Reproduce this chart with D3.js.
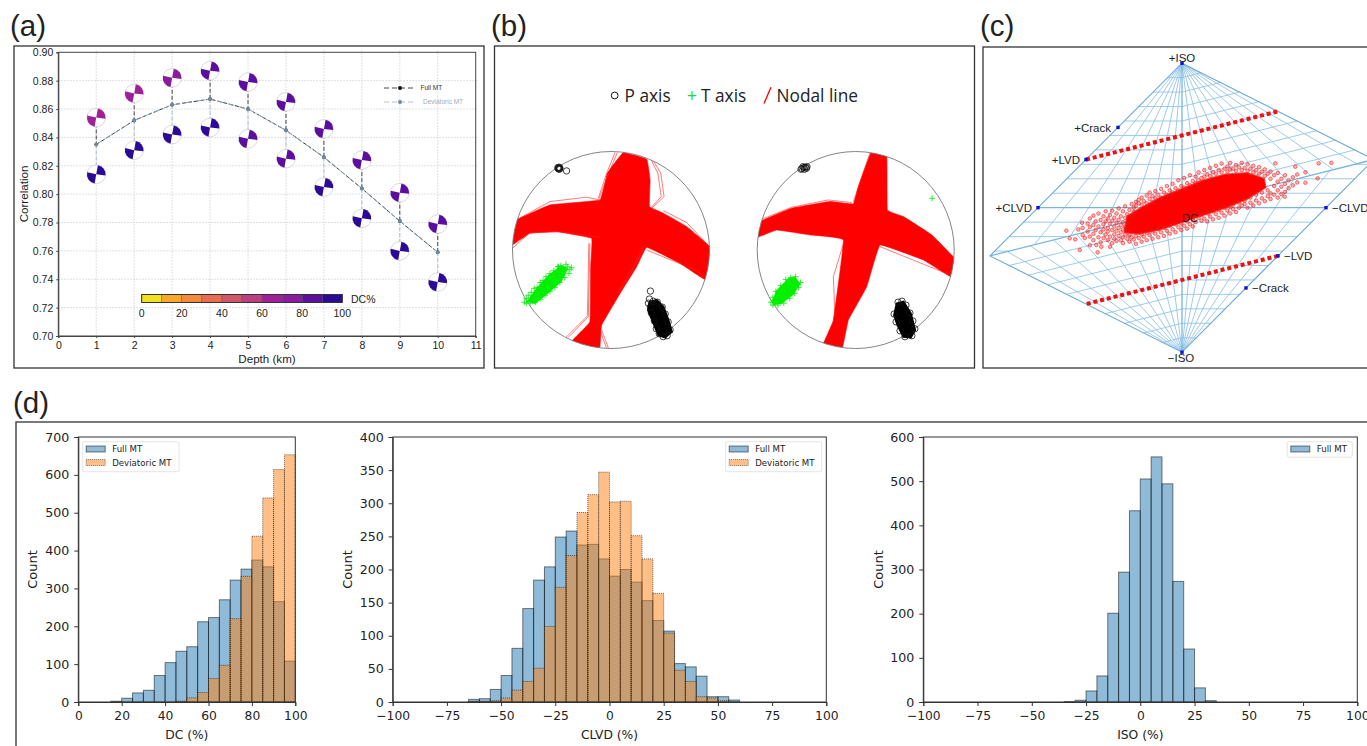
<!DOCTYPE html>
<html lang="en">
<head>
<meta charset="UTF-8">
<title>Moment tensor inversion summary</title>
<style>
  html, body { margin: 0; padding: 0; background: #fff; overflow: hidden; }
  text { fill: #222; }
  .sans { font-family: "Liberation Sans", sans-serif; }
  .mpl { font-family: "DejaVu Sans", sans-serif; }
</style>
</head>
<body>
<svg id="chart" width="1367" height="746"></svg>
<script src="https://cdn.jsdelivr.net/npm/d3@7"></script>
<script>
// panel a: correlation against depth
const depths = [1, 2, 3, 4, 5, 6, 7, 8, 9, 10]
const corrFull = [0.835, 0.852, 0.863, 0.867, 0.860, 0.845, 0.826, 0.804, 0.781, 0.759]
const corrDev = [0.835, 0.852, 0.863, 0.867, 0.860, 0.845, 0.826, 0.804, 0.781, 0.759]
const ballFullCorr = [0.854, 0.871, 0.882, 0.887, 0.879, 0.865, 0.846, 0.824, 0.801, 0.779]
const ballDevCorr = [0.814, 0.831, 0.842, 0.847, 0.839, 0.825, 0.805, 0.783, 0.760, 0.738]
const ballFullDC = [65, 65, 75, 85, 85, 85, 85, 85, 85, 85]
const ballDevDC = [95, 95, 95, 95, 85, 85, 95, 95, 95, 95]
const depthTicks = [0, 1, 2, 3, 4, 5, 6, 7, 8, 9, 10, 11]
const corrTicks = [0.70, 0.72, 0.74, 0.76, 0.78, 0.80, 0.82, 0.84, 0.86, 0.88, 0.90]
const dcColors = ["#f3e01f", "#f8a72b", "#f48a3c", "#e76c50", "#d0566a", "#bb3f82", "#a0209a", "#8a1a9e", "#5c0ea0", "#2c0a98"]
const dcBarTicks = [0, 20, 40, 60, 80, 100]
// wedge angles of the beachball, degrees clockwise from north
const ballWedges = [[10, 97], [190, 283]]

// panel b: stereonets, in percent of the net radius
const bandLeft = [[12.5,99],[36.3,92.2],[39.7,71.2],[39,44.1],[53.2,37.3],[76.9,23.7],[102,1.7],[96,-30],[70.2,-13.6],[36.3,2.7],[26.1,-16.9],[9.2,-44.1],[-9.5,-76.3],[-11.9,-102],[-40,-93],[-21.4,-72.9],[-20.7,-16.9],[-19.7,11.9],[-55.3,18.6],[-82.4,16.9],[-102,4],[-98,29.5],[-62,45.8],[-11.2,50.8],[-3.7,78]]
const thinLeft = [
  [[4.1,99],[-4.4,78],[-12.9,52.5]],
  [[6.5,99],[-2.5,78],[-12,52]],
  [[43,90.5],[50.5,78],[53.9,54.2],[41.4,42.4]],
  [[41,91],[47.5,78],[51,54],[40.5,43]],
  [[-95.9,30.5],[-62,49.2],[-24.7,53.6],[-11.2,50.8]],
  [[-100,1.7],[-82.4,17.6],[-51.9,18.6],[-11.2,12.9]],
  [[-21.4,6.8],[-23,-67.8],[-43.4,-88.8]],
  [[-22.5,6.8],[-24,-67],[-46,-89]],
  [[-11.2,-81.4],[-4.4,-100]],
  [[-9.5,-81.4],[-2.5,-100]],
  [[36.3,0],[87.1,-21],[95.6,-28.8]],
  [[53.2,40],[76.9,27.8],[100,3.4]],
  [[33.6,3.4],[24.4,-16.9],[7.5,-44.1]],
  [[32,4],[22.5,-17.5],[6,-44]]
]
const tCoreLeft = [[-85.8,-52.5],[-77.3,-40.7],[-63.7,-25.4],[-50.2,-15.3],[-43.4,-18.6],[-50.2,-32.2],[-63.7,-44.1],[-77.3,-54.9]]
const tPointsLeft = [[-88,-53],[-86,-49],[-84,-46],[-81,-43],[-78,-39],[-75,-38],[-72,-33],[-69,-31],[-66,-27],[-62,-24],[-58,-21],[-54,-17],[-51,-16],[-53.6,-16.9],[-45.8,-14.6],[-41.7,-19.7],[-44,-17],[-40,-18],[-42.7,-23.7],[-47,-28],[-52,-33],[-57,-38],[-62,-42],[-67,-46],[-72,-50],[-77,-53],[-82,-54],[-86,-54]]
const pCoreLeft = [[39,-52.5],[46.4,-50.8],[53.2,-57.6],[58.3,-71.2],[61.7,-83.1],[54.9,-88.8],[48.1,-86.4],[43.1,-74.6],[37.6,-61]]
const pPointsLeft = [[-53,83],[-52,83.5],[-53.5,82.5],[-52.5,82],[-53,84],[-54,83.5],[-52,82.5],[-45.1,80.3],[40,-41.7],[39,-49.8],[38,-54],[40,-58],[41,-64],[44,-72],[46,-80],[49,-85],[53,-88],[57,-87],[60,-81],[58,-73],[55,-65],[52,-58],[47,-53],[43,-52]]
const bandRight = [[15.6,99],[31.5,95.6],[32.2,40.7],[48.5,33.9],[77.3,15.3],[102,-10.2],[98,-28],[68.8,-10.2],[24.7,5.1],[11.2,-37.3],[-7.5,-71.2],[-14.2,-102],[-33,-96],[-22.7,-71.2],[-12.5,10.2],[-46.4,15.3],[-80.3,20.3],[-102,12],[-97,29],[-65.1,42.4],[-26.1,49.2],[-2.4,46.8],[2.7,64.4]]
const thinRight = [
  [[-21,-67.8],[-22.7,-27.1],[-11.9,8.5]],
  [[-97.3,30.5],[-65.1,43.4],[-27.8,50.8],[-4.1,48.1]],
  [[24.7,3.4],[95.9,-25.4]],
  [[-2.4,49.2],[14.6,99]]
]
const tCoreRight = [[-85.4,-52.5],[-80.3,-40.7],[-68.5,-28.8],[-61.7,-27.1],[-55.9,-33.9],[-63.4,-45.8],[-75.3,-54.9],[-83.7,-55.9]]
const tPointsRight = [[77.6,52.5],[-86,-53],[-84,-48],[-81,-42],[-76,-36],[-71,-30],[-66,-28],[-61,-27],[-56,-33],[-58,-38],[-62,-44],[-67,-49],[-73,-54],[-79,-56],[-84,-56]]
const pCoreRight = [[41.7,-54.2],[48.5,-52.5],[55.9,-64.4],[60.3,-81.4],[55.9,-88.8],[48.5,-88.1],[42.4,-76.3],[39,-66.1]]
const pPointsRight = [[-54.5,82.7],[-52.5,83.7],[-51,84],[-53.5,84.5],[-50,83],[-55.5,82],[-52,82],[-49.5,84.5],[43,-53],[47,-52],[51,-56],[55,-64],[58,-72],[60,-80],[57,-87],[50,-88],[45,-82],[41,-73],[39,-65]]

// panel c: Hudson plot, tau and k style coordinates
const hudsonRefs = [
  { name: "+ISO", u: 0, v: 1 }, { name: "\u2212ISO", u: 0, v: -1 },
  { name: "+CLVD", u: -1, v: 0 }, { name: "\u2212CLVD", u: 1, v: 0 },
  { name: "+LVD", u: -2 / 3, v: 1 / 3 }, { name: "\u2212LVD", u: 2 / 3, v: -1 / 3 },
  { name: "+Crack", u: -4 / 9, v: 5 / 9 }, { name: "\u2212Crack", u: 4 / 9, v: -5 / 9 }
]
const hudsonOutline = [[0, 1], [4 / 3, 1 / 3], [0, -1], [-4 / 3, -1 / 3]]
const meshLevels = [0.1, 0.2, 0.3, 0.4, 0.5, 0.6, 0.7, 0.8, 0.9]
const meshRaysNear = [0.07, 0.16, 0.27, 0.41, 0.58, 0.77]
const meshRaysFar = [0.09, 0.19, 0.31, 0.43, 0.55, 0.67, 0.79, 0.91]
const lvdLines = [[[-2 / 3, 1 / 3], [2 / 3, 2 / 3]], [[2 / 3, -1 / 3], [-2 / 3, -2 / 3]]]
const cloudCore = [[-.38,-.06],[-.3,-.01],[-.15,.07],[0,.13],[.15,.19],[.3,.23],[.45,.24],[.57,.2],[.58,.14],[.45,.06],[.3,0],[.15,-.05],[0,-.1],[-.15,-.15],[-.3,-.18],[-.4,-.17]]
const cloudOutliers = [[-.803,-.159],[-.78,-.212],[-.741,-.219],[-.71,-.293],[-.694,-.104],[-.586,-.309],[-.595,-.258],[1.037,.311],[.949,.307],[.787,.284],[.857,.245],[.942,.203],[.857,.173],[.713,.076],[.648,.307],[-.72,-.15],[-.675,-.21],[-.64,-.26],[-.56,-.27],[-.5,-.27]]
// columns of the scatter: [u, [v, v, ...]]
const cloudColumns = [
  [-.69,[-.14,-.19]],[-.655,[-.11,-.165]],[-.64,[-.075,-.2,-.135]],[-.615,[-.055,-.12,-.18,-.225]],[-.6,[-.095,-.155]],
  [-.58,[-.04,-.13,-.205]],[-.565,[-.085,-.17,-.24]],[-.545,[-.06,-.115,-.15,-.21]],[-.53,[-.025,-.095,-.185]],
  [-.515,[-.14,-.075,-.225,-.165]],[-.5,[-.05,-.11,-.2]],[-.485,[-.09,-.155,-.245,-.02]],[-.47,[-.13,-.07,-.185,-.215]],
  [-.455,[-.04,-.105,-.16,-.23]],[-.44,[-.005,-.085,-.14,-.195]],[-.425,[-.06,-.12,-.17,-.225]],[-.41,[-.025,-.1,-.15,-.205,-.245]],
  [-.395,[.01,-.07,-.13,-.185]],[-.38,[-.045,-.105,-.16,-.215]],[-.365,[-.015,-.19,-.235]],[-.35,[.025,-.06,-.205]],
  [-.335,[0,-.03,-.22]],[-.32,[.04,.015,-.195,-.25]],[-.3,[.03,-.21,.055]],[-.28,[.07,.02,-.185,-.235]],[-.265,[.045,-.2]],
  [-.245,[.085,.03,-.175,-.225]],[-.225,[.06,-.19,.105]],[-.205,[.04,.08,-.165,-.215]],[-.185,[.115,.065,-.18]],
  [-.165,[.09,-.15,-.205]],[-.145,[.13,.07,-.17]],[-.125,[.105,-.14,-.195]],[-.105,[.15,.09,-.16]],[-.085,[.12,-.125,-.18]],
  [-.065,[.165,.105,-.15]],[-.045,[.135,-.115,-.17]],[-.025,[.19,.12,-.135]],[-.005,[.15,-.11,-.155]],[.015,[.205,.14,-.125]],
  [.035,[.17,-.095,-.145]],[.055,[.225,.155,-.115]],[.075,[.185,-.085,-.13]],[.095,[.215,.17,-.1]],[.115,[.245,.19,-.07]],
  [.135,[.205,-.09,-.05]],[.155,[.26,.215,-.075]],[.175,[.23,-.04,-.095]],[.195,[.275,.22,-.06]],[.215,[.245,-.025,-.08]],
  [.235,[.29,.235,-.045]],[.255,[.26,-.015,-.07]],[.275,[.305,.245,-.035]],[.295,[.27,0,-.055]],[.315,[.285,.25,-.02]],
  [.335,[.31,.265,.005,-.04]],[.355,[.27,.02,-.01]],[.375,[.295,.255,-.03]],[.395,[.28,.035,0]],[.415,[.31,.26,.015]],
  [.435,[.275,.05,.025]],[.455,[.3,.255,0]],[.475,[.27,.07,.035]],[.495,[.29,.245,.015]],[.515,[.26,.09,.05]],
  [.535,[.28,.235,.03]],[.555,[.25,.105,.065]],[.575,[.265,.22,.045]],[.595,[.235,.12,.08]],[.615,[.25,.2,.06,.1]],
  [.64,[.225,.15,.09]],[.665,[.24,.18,.12,.07]],[.69,[.2,.145,.095]],[.715,[.225,.165,.11]],[.74,[.19,.135]],[.77,[.21,.155]],[.8,[.175,.23]]
]

// panel d: histograms, 5 % bins, counts
const binWidth = 5
const dcBinStart = 15
const dcFull = [2, 10, 24, 31, 70, 104, 134, 146, 212, 223, 270, 322, 351, 375, 357, 265, 108]
const dcDev = [0, 0, 0, 0, 0, 0, 2, 11, 25, 62, 97, 220, 332, 438, 539, 614, 653]
const clvdBinStart = -65
const clvdFull = [4, 5, 19, 40, 81, 141, 184, 204, 249, 258, 237, 238, 216, 190, 200, 181, 153, 123, 107, 58, 53, 39, 8, 8, 3]
const clvdDev = [1, 1, 2, 6, 18, 31, 51, 114, 173, 221, 286, 313, 347, 302, 303, 251, 216, 164, 104, 48, 31, 8, 6, 2, 0]
const isoBinStart = -35
const isoFull = [1, 4, 25, 59, 201, 294, 433, 505, 555, 494, 273, 120, 32, 3]
const dcTicksX = [0, 20, 40, 60, 80, 100]
const pctTicksX = [-100, -75, -50, -25, 0, 25, 50, 75, 100]

const svg = d3.select("#chart")

// frames and panel letters
function frame(x1, y1, x2, y2) {
  svg.append("rect").attr("x", x1).attr("y", y1).attr("width", x2 - x1).attr("height", y2 - y1)
    .attr("fill", "none").attr("stroke", "#333").attr("stroke-width", 1.3)
}
frame(14, 46, 484, 368)
frame(494.5, 46, 974.5, 368)
frame(983, 47, 1400, 368)
frame(16, 422, 1400, 790)
const letters = [["(a)", 10, 36], ["(b)", 491, 36], ["(c)", 980, 36], ["(d)", 13, 413]]
svg.selectAll(".letter").data(letters).enter().append("text")
  .attr("class", "letter sans").attr("x", d => d[1]).attr("y", d => d[2])
  .attr("font-size", 29.5).text(d => d[0])

drawPanelA()
drawPanelB()
drawPanelC()
drawHist({ x1: 78.3, x2: 295.3, xDomain: [0, 100], xTicks: dcTicksX, yMax: 700, yStep: 100, title: "DC (%)", ylabelX: 37,
  full: dcFull, dev: dcDev, start: dcBinStart, legendX: 82.7, legendW: 96.3 })
drawHist({ x1: 392.7, x2: 826.3, xDomain: [-100, 100], xTicks: pctTicksX, yMax: 400, yStep: 50, title: "CLVD (%)", ylabelX: 352,
  full: clvdFull, dev: clvdDev, start: clvdBinStart, legendX: 725.7, legendW: 96 })
drawHist({ x1: 923.3, x2: 1357.3, xDomain: [-100, 100], xTicks: pctTicksX, yMax: 600, yStep: 100, title: "ISO (%)", ylabelX: 883,
  full: isoFull, dev: null, start: isoBinStart, legendX: 1287.3, legendW: 65 })

function drawPanelA() {
  const x = d3.scaleLinear().domain([0, 11]).range([58.3, 475.7])
  const y = d3.scaleLinear().domain([0.70, 0.90]).range([336, 52.3])
  const g = svg.append("g").attr("class", "sans")
  const color = d3.scaleQuantize().domain([0, 100]).range(dcColors)

  g.append("g").selectAll("line").data(depthTicks.slice(1, -1)).enter().append("line")
    .attr("x1", d => x(d)).attr("x2", d => x(d)).attr("y1", y(0.90) - 2).attr("y2", y(0.70))
    .attr("stroke", "#c9ccd0").attr("stroke-width", 0.8).attr("stroke-dasharray", "1.5,1.5")
  g.append("g").selectAll("line").data(corrTicks.slice(1, -1)).enter().append("line")
    .attr("x1", x(0)).attr("x2", x(11) + 3).attr("y1", d => y(d)).attr("y2", d => y(d))
    .attr("stroke", "#c9ccd0").attr("stroke-width", 0.8).attr("stroke-dasharray", "1.5,1.5")

  const xAxis = g.append("g").attr("transform", `translate(0,${y(0.70)})`)
    .call(d3.axisBottom(x).tickValues(depthTicks).tickSize(2).tickPadding(4).tickFormat(d3.format("d")))
  const yAxis = g.append("g").attr("transform", `translate(${x(0)},0)`)
    .call(d3.axisLeft(y).tickValues(corrTicks).tickSize(2).tickPadding(3).tickFormat(d3.format(".2f")))
  for (const a of [xAxis, yAxis]) {
    a.selectAll("text").attr("font-size", 10.5).attr("font-family", "Liberation Sans")
    a.selectAll("line,path").attr("stroke", "#444")
  }
  g.append("rect").attr("x", x(0)).attr("y", y(0.90)).attr("width", x(11) - x(0)).attr("height", y(0.70) - y(0.90))
    .attr("fill", "none").attr("stroke", "#444").attr("stroke-width", 1)

  // stems between the balls and the curve
  depths.forEach((d, i) => {
    g.append("line").attr("x1", x(d)).attr("x2", x(d)).attr("y1", y(ballFullCorr[i])).attr("y2", y(corrFull[i]))
      .attr("stroke", "#444").attr("stroke-width", 1).attr("stroke-dasharray", "4,2")
    g.append("line").attr("x1", x(d)).attr("x2", x(d)).attr("y1", y(corrDev[i])).attr("y2", y(ballDevCorr[i]))
      .attr("stroke", "#a9bccb").attr("stroke-width", 1).attr("stroke-dasharray", "4,2")
  })

  const line = d3.line().x((d, i) => x(depths[i])).y(d => y(d))
  g.append("path").attr("d", line(corrFull)).attr("fill", "none").attr("stroke", "#333").attr("stroke-width", 1).attr("stroke-dasharray", "4,2")
  g.append("path").attr("d", line(corrDev)).attr("fill", "none").attr("stroke", "#8ea3b5").attr("stroke-width", 1).attr("stroke-dasharray", "6,2,1,2")
  g.append("g").selectAll("circle").data(corrFull).enter().append("circle")
    .attr("cx", (d, i) => x(depths[i])).attr("cy", d => y(d)).attr("r", 1.8).attr("fill", "#222")
  g.append("g").selectAll("circle").data(corrDev).enter().append("circle")
    .attr("cx", (d, i) => x(depths[i])).attr("cy", d => y(d)).attr("r", 2).attr("fill", "#70899c")

  // beachballs
  const arc = d3.arc().innerRadius(0).outerRadius(9.3)
  function balls(values, dcs) {
    values.forEach((c, i) => {
      const b = g.append("g").attr("transform", `translate(${x(depths[i])},${y(c)})`)
      b.append("circle").attr("r", 9.3).attr("fill", "#fff").attr("stroke", "#c8c8c8").attr("stroke-width", 0.7)
      ballWedges.forEach(w => {
        b.append("path").attr("fill", color(dcs[i]))
          .attr("d", arc({ startAngle: w[0] * Math.PI / 180, endAngle: w[1] * Math.PI / 180 }))
      })
    })
  }
  balls(ballFullCorr, ballFullDC)
  balls(ballDevCorr, ballDevDC)

  // legend
  const legend = [{ name: "Full MT", y: 88, line: "#333", dot: "#111", text: "#333", x: 420.5 },
                  { name: "Deviatoric MT", y: 102, line: "#a9bccb", dot: "#70899c", text: "#a0aebb", x: 423 }]
  legend.forEach(l => {
    g.append("line").attr("x1", 384).attr("x2", 416).attr("y1", l.y).attr("y2", l.y)
      .attr("stroke", l.line).attr("stroke-width", 0.9).attr("stroke-dasharray", "5,3")
    g.append("circle").attr("cx", 400).attr("cy", l.y).attr("r", 2).attr("fill", l.dot)
    g.append("text").attr("x", l.x).attr("y", l.y + 2.3).attr("font-size", 6.5).style("fill", l.text).text(l.name)
  })

  // colour bar
  const cb = d3.scaleLinear().domain([0, 100]).range([141.7, 342.3])
  const cbSteps = dcColors.map((c, i) => ({ c: c, from: i * 10 }))
  g.append("g").selectAll("rect").data(cbSteps).enter().append("rect")
    .attr("x", d => cb(d.from)).attr("width", cb(10) - cb(0)).attr("y", 294.5).attr("height", 8)
    .attr("fill", d => d.c).attr("stroke", "#555").attr("stroke-width", 0.4)
  g.append("rect").attr("x", cb(0)).attr("width", cb(100) - cb(0)).attr("y", 294.5).attr("height", 8)
    .attr("fill", "none").attr("stroke", "#333").attr("stroke-width", 1)
  g.append("g").selectAll("text").data(dcBarTicks).enter().append("text")
    .attr("x", d => cb(d)).attr("y", 316.5).attr("text-anchor", "middle").attr("font-size", 10.5).text(d => d)
  g.append("text").attr("x", 351).attr("y", 303).attr("font-size", 10.5).text("DC%")

  g.append("text").attr("x", 267).attr("y", 363).attr("text-anchor", "middle").attr("font-size", 11.6).text("Depth (km)")
  g.append("text").attr("transform", "translate(27.5,194) rotate(-90)").attr("text-anchor", "middle").attr("font-size", 11.6).text("Correlation")
}

function drawPanelB() {
  const legend = svg.append("g").attr("font-family", "Open Sans")
  legend.append("circle").attr("cx", 614.7).attr("cy", 95.5).attr("r", 3.4).attr("fill", "none").attr("stroke", "#111").attr("stroke-width", 1)
  legend.append("text").attr("x", 624.5).attr("y", 101.5).attr("font-size", 17.3).text("P axis")
  legend.append("text").attr("x", 687).attr("y", 101.5).attr("font-size", 17.3).style("fill", "#22dd22").text("+")
  legend.append("text").attr("x", 701).attr("y", 101.5).attr("font-size", 17.3).text("T axis")
  legend.append("line").attr("x1", 771).attr("y1", 87.3).attr("x2", 764).attr("y2", 103.5).attr("stroke", "#f01010").attr("stroke-width", 1.4)
  legend.append("text").attr("x", 776.5).attr("y", 101.5).attr("font-size", 17.3).text("Nodal line")

  drawNet("left", 611, bandLeft, thinLeft, tCoreLeft, tPointsLeft, pCoreLeft, pPointsLeft)
  drawNet("right", 855.7, bandRight, thinRight, tCoreRight, tPointsRight, pCoreRight, pPointsRight)
}

function drawNet(id, cx, band, thin, tCore, tPoints, pCore, pPoints) {
  const r = 98.5
  const x = d3.scaleLinear().domain([-100, 100]).range([cx - r, cx + r])
  const y = d3.scaleLinear().domain([-100, 100]).range([250 + r, 250 - r])
  const line = d3.line().x(d => x(d[0])).y(d => y(d[1]))
  const smooth = d3.line().x(d => x(d[0])).y(d => y(d[1])).curve(d3.curveCardinalClosed.tension(0.8))
  const g = svg.append("g")
  g.append("clipPath").attr("id", "net-" + id).append("circle").attr("cx", cx).attr("cy", 250).attr("r", r)
  const inner = g.append("g").attr("clip-path", `url(#net-${id})`)
  inner.append("path").attr("d", smooth(band)).attr("fill", "#ff0000").attr("stroke", "#ff0000").attr("stroke-width", 0.6)
  inner.append("g").selectAll("path").data(thin).enter().append("path")
    .attr("d", line).attr("fill", "none").attr("stroke", "#f22").attr("stroke-width", 0.6)
  g.append("circle").attr("cx", cx).attr("cy", 250).attr("r", r).attr("fill", "none").attr("stroke", "#777").attr("stroke-width", 0.9)

  g.append("path").attr("d", line(tCore) + "Z").attr("fill", "#00f000")
  g.append("g").selectAll("path").data(tPoints).enter().append("path")
    .attr("transform", d => `translate(${x(d[0])},${y(d[1])})`)
    .attr("d", "M-3,0H3M0,-3V3").attr("stroke", "#00ee00").attr("stroke-width", 0.8)
  g.append("path").attr("d", line(pCore) + "Z").attr("fill", "#000").attr("stroke", "#000").attr("stroke-width", 2)
  g.append("g").selectAll("circle").data(pPoints).enter().append("circle")
    .attr("cx", d => x(d[0])).attr("cy", d => y(d[1])).attr("r", 3.2)
    .attr("fill", "none").attr("stroke", "#111").attr("stroke-width", 0.8)
}

function drawPanelC() {
  const x = d3.scaleLinear().domain([-1, 1]).range([1038, 1326])
  const y = d3.scaleLinear().domain([-1, 1]).range([352.2, 63.2])
  const line = d3.line().x(d => x(d[0])).y(d => y(d[1]))
  const g = svg.append("g").attr("class", "sans")
  const clip = g.append("clipPath").attr("id", "c-clip")
  clip.append("rect").attr("x", 984).attr("y", 48).attr("width", 383).attr("height", 319)
  const m = g.append("g").attr("clip-path", "url(#c-clip)")

  // graticule: four triangles that share the long diagonal
  const segs = []
  meshRaysNear.forEach(t => {
    segs.push([[0, 1], [-4 / 3 * t, -t / 3]])
    segs.push([[0, -1], [4 / 3 * t, t / 3]])
  })
  meshRaysFar.forEach(t => {
    segs.push([[0, 1], [4 / 3 * t, t / 3]])
    segs.push([[0, -1], [-4 / 3 * t, -t / 3]])
  })
  meshLevels.forEach(c => {
    segs.push([[0, c], [(1 - c) * 4 / 3, (1 - c) / 3 + c]])
    segs.push([[0, -c], [-(1 - c) * 4 / 3, -(1 - c) / 3 - c]])
    segs.push([[0, c], [-(1 - c), c]])
    segs.push([[0, -c], [1 - c, -c]])
  })
  meshLevels.slice(0, 3).forEach(c => {
    segs.push([[4 * c, c], [1 + c, c]])
    segs.push([[-4 * c, -c], [-1 - c, -c]])
  })
  m.append("g").selectAll("path").data(segs).enter().append("path")
    .attr("d", line).attr("fill", "none").attr("stroke", "#93c4e6").attr("stroke-width", 0.9)
  const axes = [[[0, 1], [0, -1]], [[-1, 0], [1, 0]], [[-4 / 3, -1 / 3], [4 / 3, 1 / 3]]]
  m.append("g").selectAll("path").data(axes).enter().append("path")
    .attr("d", line).attr("fill", "none").attr("stroke", "#7ab4de").attr("stroke-width", 1.3)
  m.append("path").attr("d", line(hudsonOutline) + "Z").attr("fill", "none").attr("stroke", "#6aa9d6").attr("stroke-width", 1.1)

  g.append("text").attr("x", 1190).attr("y", 222).attr("text-anchor", "middle").attr("font-size", 11).text("DC")

  g.append("g").selectAll("path").data(lvdLines).enter().append("path")
    .attr("d", line).attr("fill", "none").attr("stroke", "#ee1111").attr("stroke-width", 4).attr("stroke-dasharray", "4,2.9")

  const cloudPoints = cloudOutliers.concat(cloudColumns.flatMap(c => c[1].map(v => [c[0], v])))
  m.append("path").attr("d", line(cloudCore) + "Z").attr("fill", "#ff0000").attr("stroke", "#ff0000")
    .attr("stroke-width", 2).attr("stroke-opacity", 0.7).attr("stroke-linejoin", "round")
  m.append("g").selectAll("circle").data(cloudPoints).enter().append("circle")
    .attr("cx", d => x(d[0])).attr("cy", d => y(d[1])).attr("r", 1.8)
    .attr("fill", "#ff0000").attr("fill-opacity", 0.3).attr("stroke", "#ee2222").attr("stroke-width", 0.7).attr("stroke-opacity", 0.85)

  g.append("g").selectAll("rect").data(hudsonRefs).enter().append("rect")
    .attr("x", d => x(d.u) - 1.7).attr("y", d => y(d.v) - 1.7).attr("width", 3.4).attr("height", 3.4).attr("fill", "#1010d0")

  const labelSpots = {
    "+ISO": [1182, 62, "middle"], "\u2212ISO": [1181, 362, "middle"], "+CLVD": [1032, 212, "end"], "\u2212CLVD": [1332, 212, "start"],
    "+LVD": [1080, 164, "end"], "\u2212LVD": [1284, 260, "start"], "+Crack": [1111, 132, "end"], "\u2212Crack": [1252, 292, "start"]
  }
  g.append("g").selectAll("text").data(hudsonRefs).enter().append("text")
    .attr("x", d => labelSpots[d.name][0]).attr("y", d => labelSpots[d.name][1])
    .attr("text-anchor", d => labelSpots[d.name][2]).attr("font-size", 11.5).text(d => d.name)
}

function drawHist(o) {
  const x = d3.scaleLinear().domain(o.xDomain).range([o.x1, o.x2])
  const y = d3.scaleLinear().domain([0, o.yMax]).range([702, 437])
  const g = svg.append("g").attr("class", "mpl")

  const series = (values, cls) => {
    const s = g.append("g").attr("class", cls)
    s.selectAll("rect").data(values).enter().append("rect")
      .attr("x", (d, i) => x(o.start + i * binWidth))
      .attr("width", x(binWidth) - x(0))
      .attr("y", d => y(d))
      .attr("height", d => y(0) - y(d))
    return s
  }
  series(o.full, "full").selectAll("rect")
    .attr("fill", "#1f77b4").attr("fill-opacity", 0.5).attr("stroke", "#000").attr("stroke-opacity", 0.5).attr("stroke-width", 1)
  if (o.dev) {
    series(o.dev, "dev").selectAll("rect")
      .attr("fill", "#ff7f0e").attr("fill-opacity", 0.5).attr("stroke", "#000").attr("stroke-opacity", 0.55)
      .attr("stroke-width", 1).attr("stroke-dasharray", "1,1")
  }

  const xAxis = g.append("g").attr("transform", `translate(0,${y(0)})`)
    .call(d3.axisBottom(x).tickValues(o.xTicks).tickSize(4).tickPadding(5).tickFormat(d3.format("d")))
  const yAxis = g.append("g").attr("transform", `translate(${o.x1},0)`)
    .call(d3.axisLeft(y).ticks(o.yMax / o.yStep).tickSize(4).tickPadding(5).tickFormat(d3.format("d")))
  xAxis.selectAll("text").attr("font-size", 12.3).attr("font-family", "DejaVu Sans")
  yAxis.selectAll("text").attr("font-size", 12.6).attr("font-family", "DejaVu Sans")
  for (const a of [xAxis, yAxis]) a.selectAll("line,path").attr("stroke", "#333")
  g.append("rect").attr("x", o.x1).attr("y", y(o.yMax)).attr("width", o.x2 - o.x1).attr("height", y(0) - y(o.yMax))
    .attr("fill", "none").attr("stroke", "#333").attr("stroke-width", 1)

  g.append("text").attr("x", (o.x1 + o.x2) / 2).attr("y", 739).attr("text-anchor", "middle").attr("font-size", 12.3).text(o.title)
  g.append("text").attr("transform", `translate(${o.ylabelX},569.5) rotate(-90)`).attr("text-anchor", "middle").attr("font-size", 13).text("Count")

  // legend box
  const h = o.dev ? 30 : 15.5
  g.append("rect").attr("x", o.legendX).attr("y", 441.7).attr("width", o.legendW).attr("height", h).attr("rx", 1.5)
    .attr("fill", "#fff").attr("fill-opacity", 0.8).attr("stroke", "#ddd").attr("stroke-width", 0.8)
  const items = o.dev ? ["Full MT", "Deviatoric MT"] : ["Full MT"]
  items.forEach((name, i) => {
    const rowY = 449 + i * 13.5
    g.append("rect").attr("x", o.legendX + 3.5).attr("y", rowY - 3).attr("width", 19).attr("height", 6)
      .attr("fill", i ? "#ff7f0e" : "#1f77b4").attr("fill-opacity", 0.5).attr("stroke", "#000").attr("stroke-opacity", 0.5)
      .attr("stroke-dasharray", i ? "1,1" : null)
    g.append("text").attr("x", o.legendX + 29.5).attr("y", rowY + 3).attr("font-size", 8.6).text(name)
  })
}
</script>
</body>
</html>
